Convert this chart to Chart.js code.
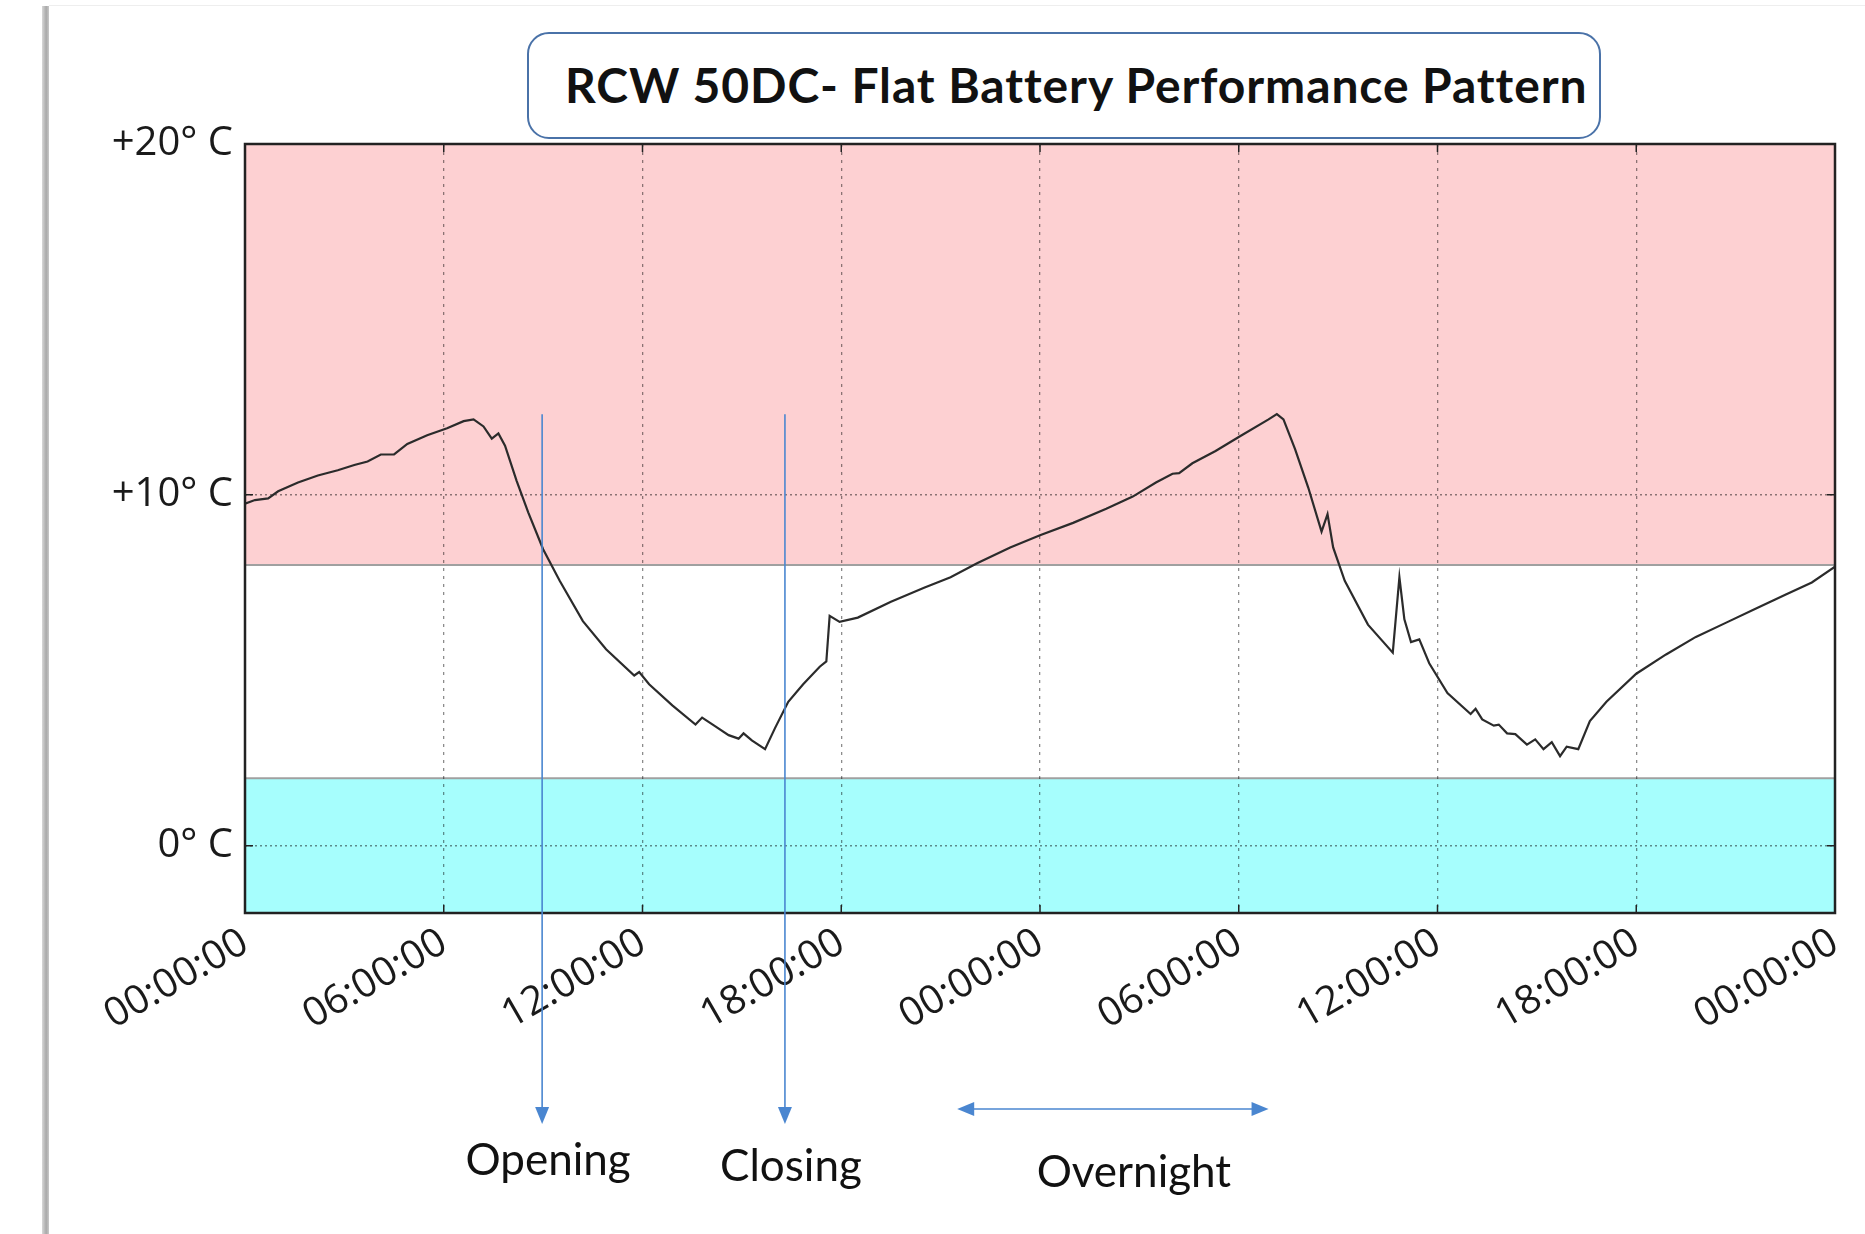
<!DOCTYPE html>
<html>
<head>
<meta charset="utf-8">
<script src="https://cdn.jsdelivr.net/npm/chart.js@4.4.1/dist/chart.umd.min.js"></script>
<style>
  body { margin: 0; background: #fff; }
  #wrap { position: relative; width: 1865px; height: 1234px; overflow: hidden; }
  #c { position: absolute; left: 0; top: 0; }
  #edge { position: absolute; left: 42px; top: 6px; width: 7px; height: 1240px;
          background: linear-gradient(to right, #d8d8d8, #a9a9a9 60%, #c8c8c8); }
  #topline { position: absolute; left: 49px; top: 5px; right: 0; height: 1px; background: #eee; }
  #title { position: absolute; left: 527px; top: 32px; width: 1034px; height: 103px;
           border: 2px solid #4a72a8; border-radius: 22px; background: #fff;
           font: bold 48px Lato, sans-serif; letter-spacing: 0.9px; line-height: 101px; color: #111;
           padding-left: 36px; box-sizing: content-box; white-space: nowrap; }
</style>
</head>
<body>
<div id="wrap">
  <canvas id="c" width="1865" height="1234"></canvas>
  <div id="edge"></div>
  <div id="topline"></div>
  <div id="title">RCW 50DC- Flat Battery Performance Pattern</div>
</div>
<script>
// hours since start of logging
const hours = [
  0.0, 0.3, 0.7, 1.0, 1.6, 2.2, 2.8, 3.3, 3.7, 4.1, 4.5, 4.9, 5.5, 6.1, 6.6, 6.9,
  7.2, 7.45, 7.65, 7.85, 8.2, 8.55, 9.0, 9.5, 10.2, 10.9, 11.75, 11.9, 12.2, 12.9,
  13.6, 13.8, 14.2, 14.6, 14.9, 15.05, 15.3, 15.7, 16.0, 16.4, 16.85, 17.35, 17.55,
  17.65, 17.95, 18.5, 19.5, 20.5, 21.3, 22.1, 23.1, 24.0, 25.0, 26.0, 26.8, 27.5,
  28.0, 28.2, 28.6, 29.3, 30.0, 30.9, 31.15, 31.35, 31.7, 32.1, 32.5, 32.68, 32.85,
  33.2, 33.9, 34.65, 34.85, 35.0, 35.2, 35.45, 35.75, 36.3, 37.0, 37.15, 37.35, 37.7,
  37.85, 38.1, 38.35, 38.7, 38.95, 39.2, 39.45, 39.7, 39.9, 40.25, 40.6, 41.1, 42.0,
  42.9, 43.8, 44.7, 45.6, 46.5, 47.3, 48.0
];
// temperature, deg C
const temps = [
  9.75, 9.85, 9.9, 10.1, 10.35, 10.55, 10.7, 10.85, 10.95, 11.15, 11.15, 11.45, 11.7, 11.9, 12.1, 12.15,
  11.95, 11.6, 11.75, 11.4, 10.4, 9.5, 8.45, 7.55, 6.4, 5.6, 4.85, 4.95, 4.6, 4.0,
  3.45, 3.65, 3.4, 3.15, 3.05, 3.2, 3.0, 2.75, 3.35, 4.1, 4.6, 5.1, 5.25,
  6.55, 6.38, 6.5, 6.95, 7.35, 7.65, 8.05, 8.5, 8.85, 9.2, 9.6, 9.95, 10.35,
  10.6, 10.62, 10.9, 11.25, 11.65, 12.15, 12.3, 12.15, 11.3, 10.2, 8.95, 9.45, 8.5,
  7.55, 6.3, 5.5, 7.65, 6.45, 5.8, 5.88, 5.2, 4.35, 3.75, 3.9, 3.6, 3.42,
  3.45, 3.2, 3.18, 2.88, 3.03, 2.75, 2.95, 2.55, 2.82, 2.75, 3.55, 4.1, 4.9,
  5.45, 5.95, 6.35, 6.75, 7.15, 7.5, 7.95
];

const xTickHours = [0, 6, 12, 18, 24, 30, 36, 42, 48];
const xTickLabels = ['00:00:00', '06:00:00', '12:00:00', '18:00:00', '00:00:00',
                     '06:00:00', '12:00:00', '18:00:00', '00:00:00'];
const yTickValues = [0, 10, 20];
const yTickLabels = ['0\u00B0 C', '+10\u00B0 C', '+20\u00B0 C'];

const warmBand = [8, 20];
const coldBand = [-1.92, 1.92];

// annotations
const markerLabels = ['Opening', 'Closing'];
const markerHours = [8.97, 16.3];
const markerTopTemp = 12.3;
const overnightHours = [21.5, 30.9];

const BLUE = '#4a86d0';

function arrowHead(ctx, x, y, dir, len, half) {
  ctx.beginPath();
  if (dir === 'down') {
    ctx.moveTo(x, y); ctx.lineTo(x - half, y - len); ctx.lineTo(x + half, y - len);
  } else if (dir === 'left') {
    ctx.moveTo(x, y); ctx.lineTo(x + len, y - half); ctx.lineTo(x + len, y + half);
  } else {
    ctx.moveTo(x, y); ctx.lineTo(x - len, y - half); ctx.lineTo(x - len, y + half);
  }
  ctx.closePath();
  ctx.fill();
}

const bandsPlugin = {
  id: 'bands',
  beforeDraw(chart) {
    const { ctx, chartArea: a, scales: { y } } = chart;
    ctx.save();
    [[warmBand, '#fdd0d2'], [coldBand, '#a6fefd']].forEach(([b, color]) => {
      const top = y.getPixelForValue(b[1]);
      const bot = y.getPixelForValue(b[0]);
      ctx.fillStyle = color;
      ctx.fillRect(a.left, top, a.right - a.left, bot - top);
    });
    ctx.strokeStyle = '#a0a0a0';
    ctx.lineWidth = 2;
    [warmBand[0], coldBand[1]].forEach(v => {
      const py = y.getPixelForValue(v);
      ctx.beginPath(); ctx.moveTo(a.left, py); ctx.lineTo(a.right, py); ctx.stroke();
    });
    ctx.restore();
  }
};

const framePlugin = {
  id: 'frame',
  afterDatasetsDraw(chart) {
    const { ctx, chartArea: a, scales: { x, y } } = chart;
    ctx.save();
    ctx.strokeStyle = '#222';
    ctx.lineWidth = 2.5;
    ctx.strokeRect(a.left, a.top, a.right - a.left, a.bottom - a.top);
    ctx.lineWidth = 1.5;
    ctx.beginPath();
    xTickHours.forEach(h => {
      const px = x.getPixelForValue(h);
      ctx.moveTo(px, a.bottom); ctx.lineTo(px, a.bottom - 8);
      ctx.moveTo(px, a.top); ctx.lineTo(px, a.top + 8);
    });
    yTickValues.forEach(v => {
      const py = y.getPixelForValue(v);
      ctx.moveTo(a.left, py); ctx.lineTo(a.left + 8, py);
      ctx.moveTo(a.right, py); ctx.lineTo(a.right - 8, py);
    });
    ctx.stroke();
    ctx.restore();
  },
  afterDraw(chart) {
    const { ctx, chartArea: a, scales: { x, y } } = chart;
    ctx.save();
    ctx.strokeStyle = BLUE;
    ctx.fillStyle = BLUE;
    ctx.lineWidth = 1.6;
    const tipY = a.bottom + 211;
    markerHours.forEach(h => {
      const px = x.getPixelForValue(h);
      ctx.beginPath();
      ctx.moveTo(px, y.getPixelForValue(markerTopTemp));
      ctx.lineTo(px, tipY - 10);
      ctx.stroke();
      arrowHead(ctx, px, tipY, 'down', 17, 7);
    });
    // overnight double arrow
    const oy = a.bottom + 196;
    const x0 = x.getPixelForValue(overnightHours[0]);
    const x1 = x.getPixelForValue(overnightHours[1]);
    ctx.beginPath(); ctx.moveTo(x0 + 10, oy); ctx.lineTo(x1 - 10, oy); ctx.stroke();
    arrowHead(ctx, x0, oy, 'left', 17, 7);
    arrowHead(ctx, x1, oy, 'right', 17, 7);

    ctx.fillStyle = '#111';
    ctx.font = '44px Lato';
    ctx.textAlign = 'center';
    ctx.textBaseline = 'alphabetic';
    const base = [a.bottom + 262, a.bottom + 268];
    markerLabels.forEach((t, i) => {
      ctx.fillText(t, x.getPixelForValue(markerHours[i]) + 6, base[i]);
    });
    ctx.fillText('Overnight', (x0 + x1) / 2 + 21, a.bottom + 274);
    ctx.restore();
  }
};

Chart.defaults.font.family = "'Open Sans'";
Chart.defaults.color = '#1a1a1a';

new Chart(document.getElementById('c'), {
  type: 'line',
  data: {
    datasets: [{
      label: 'Temperature',
      data: hours.map((h, i) => ({ x: h, y: temps[i] })),
      borderColor: '#2b2b2b',
      borderWidth: 2.2,
      pointRadius: 0,
      tension: 0,
      fill: false
    }]
  },
  options: {
    responsive: false,
    animation: false,
    events: [],
    layout: { padding: { top: 144, right: 30, left: 0, bottom: 0 } },
    plugins: { legend: { display: false }, tooltip: { enabled: false } },
    scales: {
      x: {
        type: 'linear',
        min: 0,
        max: 48,
        afterBuildTicks: s => { s.ticks = xTickHours.map(v => ({ value: v })); },
        afterFit: s => { s.height = 321; },
        ticks: {
          autoSkip: false,
          minRotation: 30,
          maxRotation: 30,
          padding: 6,
          font: { size: 40 },
          callback: (v, i) => xTickLabels[i]
        },
        grid: { color: 'rgba(0,0,0,0.45)', lineWidth: 1.3, drawTicks: false },
        border: { display: false, dash: [3, 5] }
      },
      y: {
        min: coldBand[0],
        max: 20,
        afterBuildTicks: s => { s.ticks = yTickValues.map(v => ({ value: v })); },
        afterFit: s => { s.width = 245; },
        ticks: {
          padding: 12,
          font: { size: 40 },
          callback: (v, i) => yTickLabels[i]
        },
        grid: { color: 'rgba(0,0,0,0.45)', lineWidth: 1.6, drawTicks: false },
        border: { display: false, dash: [2, 3] }
      }
    }
  },
  plugins: [bandsPlugin, framePlugin]
});
</script>
</body>
</html>
